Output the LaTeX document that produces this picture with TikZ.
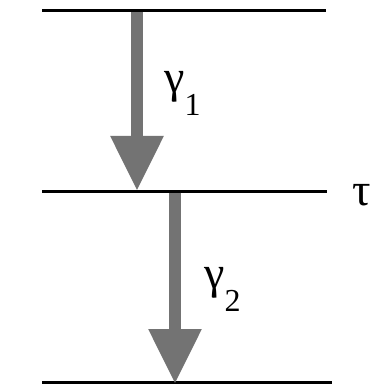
\documentclass[tikz,border=0pt]{standalone}
\usepackage{fontspec}
\setmainfont{Liberation Serif}
\usetikzlibrary{arrows.meta}
\newcommand{\gsub}[1]{\raisebox{-23pt}{\fontsize{32}{32}\selectfont #1}}

\begin{document}
\begin{tikzpicture}[x=1pt,y=-1pt,
  level/.style={line width=3pt},
  decay/.style={line width=12pt,black!55,-{Triangle[length=55pt,width=50pt]}},
  lbl/.style={font=\fontsize{46}{46}\selectfont,inner sep=0pt,anchor=base west}]
\useasboundingbox (0,0) rectangle (371,387);
% energy levels
\coordinate (topL) at (42,11);   \coordinate (topR) at (326,11);
\coordinate (midL) at (42,191);  \coordinate (midR) at (327,191);
\coordinate (botL) at (42,382);  \coordinate (botR) at (332,382);
\draw[level] (topL) -- (topR);
\draw[level] (midL) -- (midR);
\draw[level] (botL) -- (botR);
% cascade
\coordinate (g1s) at (137,12.5);  \coordinate (g1e) at (137,191);
\coordinate (g2s) at (175,192.5); \coordinate (g2e) at (175,384);
\draw[decay] (g1s) -- (g1e);
\draw[decay] (g2s) -- (g2e);
\node[lbl] (gam1) at (164,93) {γ\gsub{1}};
\node[lbl] (gam2) at (204,288) {γ\gsub{2}};
\node[lbl] (tau) at (352,205) {τ};
\end{tikzpicture}
\end{document}
